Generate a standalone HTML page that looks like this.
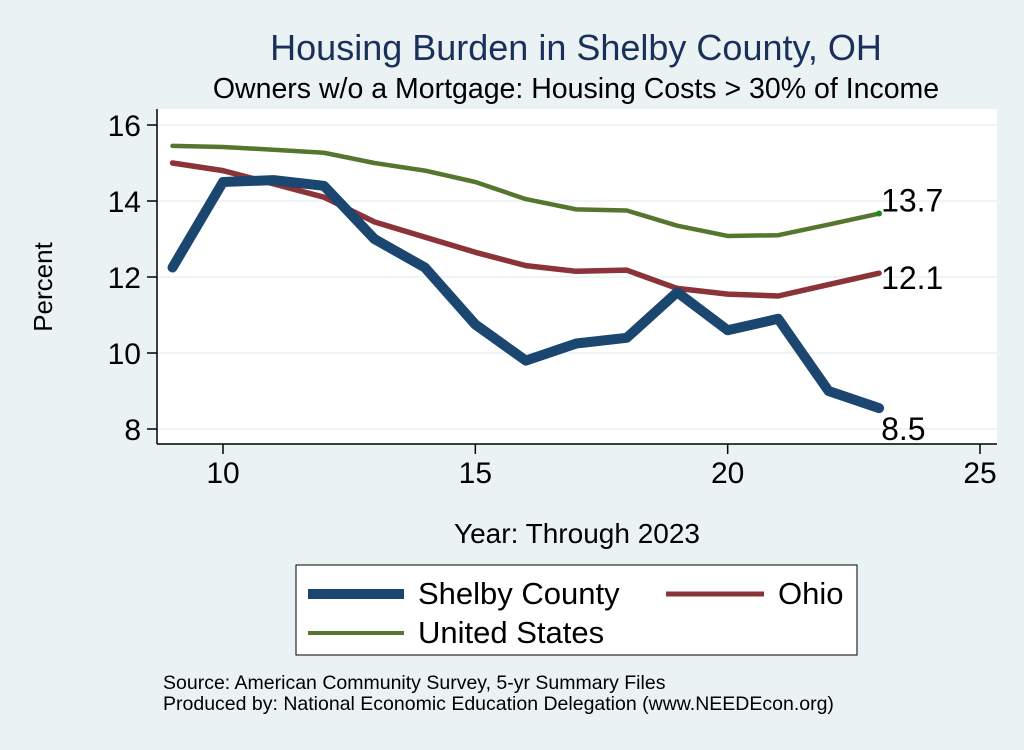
<!DOCTYPE html>
<html><head><meta charset="utf-8"><style>
body{margin:0;background:#eaf2f3;font-family:"Liberation Sans",sans-serif}
svg text{font-family:"Liberation Sans",sans-serif}
</style></head><body>
<svg width="1024" height="745" viewBox="0 0 1024 745" xmlns="http://www.w3.org/2000/svg">
<rect width="1024" height="745" fill="#eaf2f3"/>
<rect x="157" y="109" width="840" height="335" fill="#fff"/>
<g id="grid"></g>
<line x1="157" y1="109" x2="157" y2="444" stroke="#000" stroke-width="1.5"/>
<line x1="157" y1="444" x2="997" y2="444" stroke="#000" stroke-width="1.5"/>
<g id="axes"></g>
<g id="lines"></g>
<text x="576" y="60" font-size="36" fill="#1a2f5a" text-anchor="middle">Housing Burden in Shelby County, OH</text>
<text x="576" y="98" font-size="28.5" text-anchor="middle">Owners w/o a Mortgage: Housing Costs &gt; 30% of Income</text>
<text transform="translate(52,287) rotate(-90)" font-size="26" text-anchor="middle">Percent</text>
<text x="577" y="543" font-size="28" text-anchor="middle">Year: Through 2023</text>
<g>
<rect x="296" y="565" width="561" height="90" fill="#fff" stroke="#000" stroke-width="1"/>
<line x1="308" y1="594" x2="404" y2="594" stroke="#1a4670" stroke-width="10"/>
<text x="418" y="604" font-size="31">Shelby County</text>
<line x1="666" y1="594" x2="764" y2="594" stroke="#8b3339" stroke-width="5"/>
<text x="778" y="604" font-size="31">Ohio</text>
<line x1="308" y1="633" x2="404" y2="633" stroke="#55762f" stroke-width="4"/>
<text x="418" y="643" font-size="31">United States</text>
</g>
<text x="163" y="689" font-size="19.5">Source: American Community Survey, 5-yr Summary Files</text>
<text x="163" y="710" font-size="19.5">Produced by: National Economic Education Delegation (www.NEEDEcon.org)</text>
</svg>
<script>
const years=[9,10,11,12,13,14,15,16,17,18,19,20,21,22,23];
const shelby=[12.25,14.5,14.55,14.4,13.0,12.25,10.75,9.8,10.25,10.4,11.6,10.6,10.9,9.0,8.55];
const ohio=[15.0,14.8,14.45,14.1,13.45,13.05,12.65,12.3,12.15,12.18,11.7,11.55,11.5,11.8,12.1];
const us=[15.45,15.42,15.35,15.27,15.0,14.8,14.5,14.05,13.78,13.75,13.35,13.08,13.1,13.38,13.67];
const xTicks=[10,15,20,25];
const yTicks=[8,10,12,14,16];
const endLabels=["8.5","12.1","13.7"];
const NS="http://www.w3.org/2000/svg";
const X=v=>223+(v-10)*(980-223)/15;
const Y=v=>429-(v-8)*38;
function mk(t,a,p){const e=document.createElementNS(NS,t);for(const k in a)e.setAttribute(k,a[k]);document.getElementById(p).appendChild(e);return e;}
yTicks.forEach(v=>{
 const g=mk('line',{x1:157,x2:997,y1:Y(v),y2:Y(v),stroke:'#eaf2f3','stroke-width':1.5},'grid');
 
 
 const t=mk('line',{x1:147,x2:157,y1:Y(v),y2:Y(v),stroke:'#000','stroke-width':1.5},'axes');
 
 
 const l=mk('text',{x:141,y:Y(v)+11,'font-size':30,'text-anchor':'end'},'axes');
 
 
 l.textContent=v;
});
xTicks.forEach(v=>{
 const t=mk('line',{x1:X(v),x2:X(v),y1:444,y2:454,stroke:'#000','stroke-width':1.5},'axes');
 
 
 const l=mk('text',{x:X(v),y:483,'font-size':30,'text-anchor':'middle'},'axes');
 
 
 l.textContent=v;
});
const series=[[us,'#55762f',4.5,'us-line'],[ohio,'#8b3339',5.5,'ohio-line'],[shelby,'#1a4670',10,'shelby-line']];
series.forEach(([d,c,w,n])=>{
 const p=mk('polyline',{points:years.map((y,i)=>X(y)+','+Y(d[i])).join(' '),fill:'none',stroke:c,'stroke-width':w,'stroke-linejoin':'round','stroke-linecap':'round'},'lines');
 
 
});
const last=years.length-1;
const dot=mk('circle',{cx:X(years[last]),cy:Y(us[last]),r:3,fill:'#1f8a1f'},'lines');


const endVals=[shelby[last],ohio[last],us[last]];
const dys=[32,16,-2];
endVals.forEach((v,i)=>{
 const t=mk('text',{x:X(years[last])+2,y:Y(v)+dys[i],'font-size':32},'lines');
 
 
 t.textContent=endLabels[i];
});
</script>
</body></html>
